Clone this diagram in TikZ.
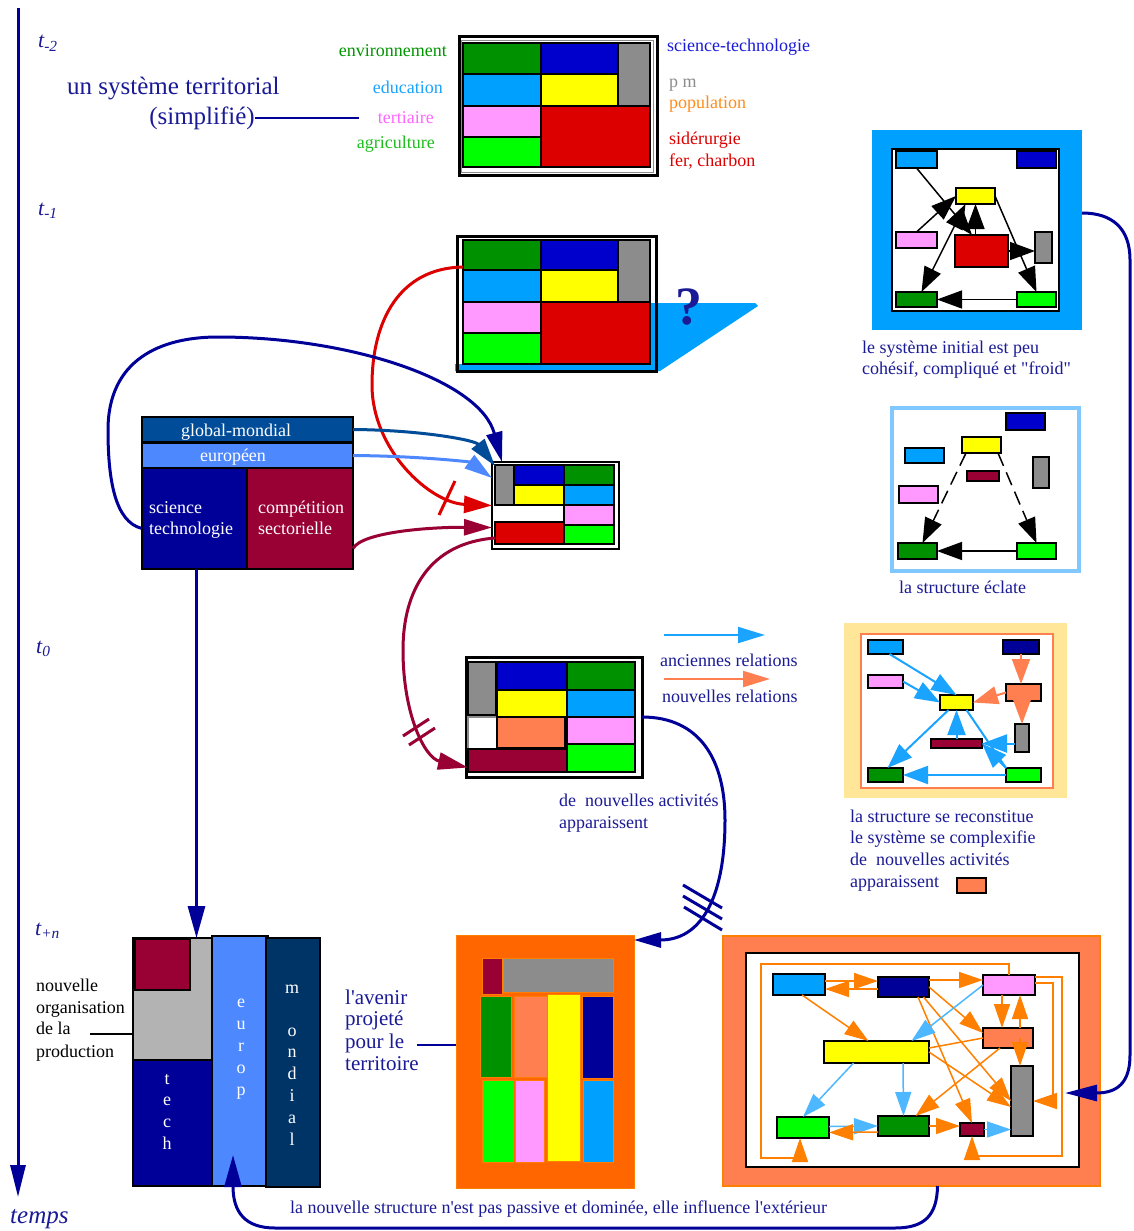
\documentclass[tikz,border=0pt]{standalone}
\usepackage{fontspec}
\setmainfont{Liberation Serif}
\usetikzlibrary{arrows.meta,calc}
\definecolor{navyT}{RGB}{26,26,150}
\definecolor{navyL}{RGB}{0,0,153}
\definecolor{dkgreen}{RGB}{0,145,0}
\definecolor{blueC}{RGB}{0,0,204}
\definecolor{grayC}{RGB}{140,140,140}
\definecolor{lblue}{RGB}{0,160,255}
\definecolor{yellowC}{RGB}{255,255,0}
\definecolor{pinkC}{RGB}{255,153,255}
\definecolor{redC}{RGB}{221,0,0}
\definecolor{bgreen}{RGB}{0,255,0}
\definecolor{maroonC}{RGB}{153,0,51}
\definecolor{coralC}{RGB}{255,127,80}
\definecolor{orangeC}{RGB}{255,102,0}
\definecolor{orangeA}{RGB}{255,128,0}
\definecolor{skyA}{RGB}{77,184,255}
\definecolor{euroC}{RGB}{77,136,255}
\definecolor{globC}{RGB}{0,76,153}
\definecolor{mondC}{RGB}{0,51,102}
\definecolor{navyF}{RGB}{0,0,153}
\definecolor{paleY}{RGB}{255,230,153}
\definecolor{frameB}{RGB}{128,200,255}
\definecolor{lgrayC}{RGB}{179,179,179}
\definecolor{txtGreen}{RGB}{0,150,0}
\definecolor{txtGreen2}{RGB}{30,190,30}
\definecolor{txtSky}{RGB}{26,163,255}
\definecolor{txtPink}{RGB}{255,102,255}
\definecolor{txtOrange}{RGB}{255,140,26}
\definecolor{txtBlue}{RGB}{26,26,217}
\definecolor{txtGray}{RGB}{140,140,140}
\newcommand\mkcell[7][]{\node[cellbase,fill=#3,minimum width={(#6-#4)*1pt},minimum height={(#7-#5)*1pt},#1] (#2) at ({(#4+#6)/2},{(#5+#7)/2}) {};}
\newcommand\aps{\textquotesingle}
\begin{document}
\begin{tikzpicture}[x=1pt,y=-1pt,
  cellbase/.style={draw=black,line width=1.5pt,inner sep=0pt,outer sep=0pt,rectangle},
  lab/.style={inner sep=0pt,font=\fontsize{18}{22}\selectfont,anchor=base west,text=navyT},
  wlab/.style={lab,text=white},
  tl/.style={inner sep=0pt,anchor=base west,text=navyT,font=\fontsize{22}{26}\selectfont\itshape},
  bignavy/.style={draw=navyL,line width=3pt,-{Triangle[length=30pt,width=16pt]}},
  blk/.style={draw=black,line width=1.5pt,-{Triangle[length=25pt,width=18pt]}},
  blkb/.style={draw=black,line width=1.5pt,{Triangle[length=25pt,width=18pt]}-{Triangle[length=25pt,width=18pt]}},
  blkd/.style={blk,dash pattern=on 14pt off 7pt},
  rsk/.style={draw=txtSky,line width=2pt,-{Triangle[length=25pt,width=18pt]}},
  rcor/.style={draw=coralC,line width=2pt,-{Triangle[length=25pt,width=18pt]}},
  oar/.style={draw=orangeA,line width=1.5pt,-{Triangle[length=24pt,width=16pt]}},
  sar/.style={draw=skyA,line width=1.5pt,-{Triangle[length=24pt,width=16pt]}}
]
\fill[white] (0,0) rectangle (1133,1231);
\useasboundingbox (0,0) rectangle (1133,1231);

% ---------- time axis ----------
\coordinate (axTop) at (18,8);
\coordinate (axBot) at (18,1197);
\draw[draw=navyL,line width=3pt,-{Triangle[length=32pt,width=15pt]}] (axTop) -- (axBot);
\node[tl] (tm2) at (38,48) {t\textsubscript{-2}};
\node[tl] (tm1) at (38,215) {t\textsubscript{-1}};
\node[tl] (t0) at (36,653) {t\textsubscript{0}};
\node[tl] (tpn) at (35,935) {t\textsubscript{+n}};
\node[tl,font=\fontsize{25}{30}\selectfont\itshape] (temps) at (10,1223) {temps};

% ---------- t-2 system ----------
\mkcell[line width=3pt]{sysA}{white}{459}{37}{657}{175}
\draw[grayC,line width=0.8pt] (461.5,40) rectangle (653,172);
\mkcell{a1}{dkgreen}{463}{43}{541}{74}
\mkcell{a2}{blueC}{541}{43}{618}{74}
\mkcell{a3}{grayC}{618}{43}{650}{106}
\mkcell{a4}{lblue}{463}{74}{541}{106}
\mkcell{a5}{yellowC}{541}{74}{618}{106}
\mkcell{a6}{pinkC}{463}{106}{541}{137}
\mkcell{a7}{redC}{541}{106}{650}{167}
\mkcell{a8}{bgreen}{463}{137}{541}{167}
\node[lab,anchor=base east,text=txtGreen] (lEnv) at (447,57) {environnement};
\node[lab,anchor=base east,text=txtSky] (lEdu) at (443,93) {education};
\node[lab,anchor=base east,text=txtPink] (lTer) at (434,123) {tertiaire};
\node[lab,anchor=base east,text=txtGreen2] (lAgr) at (435,148) {agriculture};
\node[lab,text=txtBlue] (lSci) at (667,52) {science-technologie};
\node[lab,text=txtGray] (lPm) at (669,88) {p m};
\node[lab,text=txtOrange] (lPop) at (669,108) {population};
\node[lab,text=redC] (lSid) at (669,144) {sidérurgie};
\node[lab,text=redC] (lFer) at (669,166) {fer, charbon};
\node[lab,font=\fontsize{25}{30}\selectfont] (lUn) at (67,94) {un système territorial};
\node[lab,font=\fontsize{25}{30}\selectfont,anchor=base east] (lSimp) at (255,124) {(simplifié)};
\coordinate (simpEnd) at (359,117);
\draw[navyL,line width=1.5pt] (lSimp.east) -- (lSimp.east -| simpEnd);

% ---------- t-1 system ----------
\fill[lblue] (640,303) -- (755,303) -- (758,306) -- (660,371) -- (455,371) -- (455,364) -- (640,364) -- cycle;
\mkcell[line width=3pt,fill=none]{sysB}{white}{457}{236}{656}{371}
\mkcell{b1}{dkgreen}{463}{240}{541}{270}
\mkcell{b2}{blueC}{541}{240}{618}{270}
\mkcell{b3}{grayC}{618}{240}{650}{302}
\mkcell{b4}{lblue}{463}{270}{541}{302}
\mkcell{b5}{yellowC}{541}{270}{618}{302}
\mkcell{b6}{pinkC}{463}{302}{541}{333}
\mkcell{b7}{redC}{541}{302}{650}{364}
\mkcell{b8}{bgreen}{463}{333}{541}{364}
\node[inner sep=0pt,font=\fontsize{54}{60}\selectfont\bfseries,text=navyT,anchor=base] (qm) at (689,324) {?};

% ---------- forces block ----------
\mkcell{glob}{globC}{142}{417}{353}{442}
\mkcell{eur}{euroC}{142}{443}{353}{468}
\mkcell{sci}{navyF}{142}{468}{247}{569}
\mkcell{comp}{maroonC}{247}{468}{353}{569}
\node[wlab,anchor=base] (globT) at (236,436) {global-mondial};
\node[wlab,anchor=base] (eurT) at (233,461) {européen};
\node[wlab] (sciT1) at (149,513) {science};
\node[wlab] (sciT2) at (149,534) {technologie};
\node[wlab] (compT1) at (258,513) {compétition};
\node[wlab] (compT2) at (258,534) {sectorielle};

% ---------- small system ----------
\mkcell{sysC}{white}{492}{462}{619}{549}
\mkcell{c1}{grayC}{495}{465}{514}{505}
\mkcell{c2}{blueC}{514}{465}{564}{485}
\mkcell{c3}{dkgreen}{564}{465}{614}{485}
\mkcell{c4}{yellowC}{514}{485}{564}{505}
\mkcell{c5}{lblue}{564}{485}{614}{505}
\mkcell{c6}{pinkC}{564}{505}{614}{525}
\mkcell{c7}{redC}{495}{522}{564}{544}
\mkcell{c8}{bgreen}{564}{525}{614}{544}

% curves into small system
\draw[redC,line width=3pt,-{Triangle[length=28pt,width=17pt]}] ([yshift=3pt]b1.south west) .. controls (400,268) and (372,320) .. (372,385) .. controls (372,450) and (430,503) .. (sysC.west);
\draw[redC,line width=3pt] (455,481) -- (439,515);
\draw[bignavy] ([yshift=-10pt]sci.west) .. controls (115,522) and (108,480) .. (108,430) .. controls (108,360) and (160,337) .. (218,337) .. controls (350,337) and (480,380) .. ([xshift=10pt]sysC.north west);
\draw[globC,line width=3pt,-{Triangle[length=28pt,width=16pt]}] (glob.east) .. controls (420,430) and (475,440) .. ([xshift=3pt,yshift=-4pt]sysC.north west);
\draw[euroC,line width=3pt,-{Triangle[length=28pt,width=16pt]}] (eur.east) .. controls (420,456) and (470,462) .. ([yshift=-16pt]sysC.north west);
\draw[maroonC,line width=3pt,-{Triangle[length=28pt,width=16pt]}] ([yshift=-30pt]comp.east) .. controls (362,532) and (430,527) .. ([yshift=-22pt]sysC.west);

% ---------- t0 system ----------
\mkcell[line width=3pt]{sysD}{white}{466}{657}{642}{777}
\mkcell{d1}{grayC}{468}{662}{496}{715}
\mkcell{d2}{blueC}{497}{662}{567}{690}
\mkcell{d3}{dkgreen}{567}{662}{635}{690}
\mkcell{d4}{yellowC}{497}{690}{567}{717}
\mkcell{d5}{lblue}{567}{690}{635}{717}
\mkcell[draw=grayC]{d6}{white}{468}{717}{497}{749}
\mkcell{d7}{coralC}{497}{717}{565}{748}
\mkcell{d8}{pinkC}{567}{717}{635}{744}
\mkcell{d9}{maroonC}{468}{749}{567}{772}
\mkcell{d10}{bgreen}{567}{744}{635}{772}
\draw[maroonC,line width=3pt,-{Triangle[length=30pt,width=17pt]}] ([yshift=-5pt]c7.west) .. controls (430,543) and (403,590) .. (403,650) .. controls (403,715) and (425,758) .. ([yshift=-7pt]d9.west);
\draw[maroonC,line width=3pt] (403,736) -- (429,719);
\draw[maroonC,line width=3pt] (409,745) -- (435,728);
\node[lab] (nvA1) at (559,806) {de\ \ nouvelles activités};
\node[lab] (nvA2) at (559,828) {apparaissent};

% legend
\coordinate (lg1a) at (664,635); \coordinate (lg1b) at (765,635);
\coordinate (lg2a) at (664,679); \coordinate (lg2b) at (770,679);
\draw[txtSky,line width=2pt,-{Triangle[length=27pt,width=16pt]}] (lg1a) -- (lg1b);
\draw[coralC,line width=2pt,-{Triangle[length=27pt,width=16pt]}] (lg2a) -- (lg2b);
\node[lab] (lgT1) at (660,666) {anciennes relations};
\node[lab] (lgT2) at (662,702) {nouvelles relations};

% ---------- initial system (right) ----------
\mkcell[draw=none]{ini}{lblue}{872}{130}{1082}{330}
\mkcell[line width=2pt]{iniF}{white}{892}{149}{1059}{311}
\mkcell{ilb}{lblue}{896}{151}{937}{168}
\mkcell{ibl}{blueC}{1017}{151}{1056}{168}
\mkcell{iye}{yellowC}{956}{188}{995}{204}
\mkcell{ipk}{pinkC}{896}{232}{937}{248}
\mkcell{ird}{redC}{955}{235}{1008}{267}
\mkcell{igy}{grayC}{1035}{232}{1052}{263}
\mkcell{idg}{dkgreen}{896}{292}{937}{307}
\mkcell{ibg}{bgreen}{1017}{292}{1056}{307}
\draw[blk] (ilb.south) -- ([xshift=17pt]ird.north west);
\draw[blk] (ipk.north) -- (iye.west);
\draw[blkb] ([xshift=-10pt]iye.south) -- ([xshift=5pt]idg.north);
\coordinate (irdN) at ([xshift=-6pt]ird.north);
\draw[blk] (irdN) -- (irdN |- iye.south);
\draw[blk] (ird.east) -- (ird.east -| igy.west);
\draw[blk] (iye.east) -- (ibg.north);
\draw[blk] (ibg.west) -- (idg.east);
\node[lab] (iniT1) at (862,353) {le système initial est peu};
\node[lab] (iniT2) at (862,374) {cohésif, compliqué et \textquotedbl froid\textquotedbl};

% ---------- structure eclate ----------
\mkcell[draw=frameB,line width=4pt]{ecl}{white}{892}{408}{1079}{571}
\mkcell{ebl}{blueC}{1006}{413}{1045}{430}
\mkcell{eye}{yellowC}{962}{437}{1001}{453}
\mkcell{elb}{lblue}{905}{448}{944}{463}
\mkcell{emr}{maroonC}{967}{471}{999}{481}
\mkcell{egy}{grayC}{1033}{457}{1049}{488}
\mkcell{epk}{pinkC}{899}{486}{938}{503}
\mkcell{edg}{dkgreen}{898}{543}{937}{559}
\mkcell{ebg}{bgreen}{1017}{543}{1056}{559}
\draw[blkd] ([xshift=4pt]eye.south west) -- ([xshift=5pt]edg.north);
\draw[blkd] ([xshift=-3pt]eye.south east) -- (ebg.north);
\draw[blk] (ebg.west) -- (edg.east);
\node[lab] (eclT) at (899,593) {la structure éclate};

% ---------- reconstitution ----------
\mkcell[draw=none]{recBg}{paleY}{844}{623}{1067}{798}
\mkcell[draw=coralC,line width=2pt]{recF}{white}{861}{634}{1053}{788}
\mkcell{rlb}{lblue}{868}{640}{903}{654}
\mkcell{rnv}{navyF}{1003}{640}{1039}{654}
\mkcell{rpk}{pinkC}{868}{675}{903}{688}
\mkcell{rye}{yellowC}{940}{695}{973}{710}
\mkcell{rco}{coralC}{1006}{684}{1041}{701}
\mkcell{rgy}{grayC}{1015}{724}{1029}{752}
\mkcell{rmr}{maroonC}{931}{739}{982}{748}
\mkcell{rdg}{dkgreen}{868}{768}{903}{782}
\mkcell{rbg}{bgreen}{1006}{768}{1041}{782}
\draw[rsk] ([xshift=4pt]rlb.south) -- (rye.north);
\draw[rsk] (rpk.east) -- (rye.west);
\draw[rsk] ([xshift=-8pt]rye.south) -- ([xshift=2pt]rdg.north);
\draw[rsk] (rmr.north) -- (rmr.north |- rye.south);
\draw[txtSky,line width=2pt] ([xshift=10pt]rye.south) -- (rbg.north west);
\draw[rsk] (rmr.east -| rgy.west) -- (rmr.east);
\draw[rsk] (rbg.north west) -- (rmr.east);
\draw[rsk] (rbg.west) -- (rdg.east);
\draw[rcor] (rnv.south) -- (rnv.south |- rco.north);
\draw[rcor] (rco.west) -- (rye.east);
\draw[rcor] (rgy.north |- rco.south) -- (rgy.north);
\node[lab] (recT1) at (850,822) {la structure se reconstitue};
\node[lab] (recT2) at (850,843) {le système se complexifie};
\node[lab] (recT3) at (850,865) {de\ \ nouvelles activités};
\node[lab] (recT4) at (850,887) {apparaissent};
\mkcell{recKey}{coralC}{957}{878}{986}{893}

% ---------- t+n : production block ----------
\mkcell{G}{lgrayC}{133}{938}{212}{1060}
\mkcell{Gm}{maroonC}{135}{939}{190}{990}
\mkcell{tech}{navyF}{133}{1060}{212}{1186}
\mkcell{europ}{euroC}{212}{936}{268}{1186}
\mkcell{mond}{mondC}{266}{938}{320}{1187}
\foreach \ch/\yy [count=\k] in {t/1084,e/1105,c/1127,h/1149}
  \node[wlab,anchor=base] (te\k) at (167,\yy) {\ch};
\foreach \ch/\yy [count=\k] in {e/1007,u/1029,r/1051,o/1073,p/1095}
  \node[wlab,anchor=base] (eu\k) at (241,\yy) {\ch};
\foreach \ch/\yy [count=\k] in {m/993,o/1036,n/1057,d/1079,i/1101,a/1123,l/1145}
  \node[wlab,anchor=base] (mo\k) at (292,\yy) {\ch};
\coordinate (sciS) at ([xshift=2pt]sci.south);
\draw[draw=navyL,line width=3pt,-{Triangle[length=32pt,width=17pt]}] (sciS) -- (sciS |- G.north);
\node[lab,text=black] (noT1) at (36,991) {nouvelle};
\node[lab,text=black] (noT2) at (36,1013) {organisation};
\node[lab,text=black] (noT3) at (36,1034) {de la};
\node[lab,text=black] (noT4) at (36,1057) {production};
\coordinate (orgL) at (90,1034);
\draw[black,line width=1.5pt] (orgL) -- (orgL -| G.west);

% ---------- projected future ----------
\mkcell[draw=orangeA,line width=1pt]{fut}{orangeC}{456}{935}{634}{1188}
\mkcell[draw=orangeA,line width=1pt]{u1}{maroonC}{482}{958}{502}{994}
\mkcell[draw=orangeA,line width=1pt]{u2}{grayC}{503}{958}{613}{992}
\mkcell[draw=orangeA,line width=1pt]{u3}{dkgreen}{480}{996}{511}{1077}
\mkcell[draw=orangeA,line width=1pt]{u4}{coralC}{514}{996}{547}{1077}
\mkcell[draw=orangeA,line width=1pt]{u5}{yellowC}{547}{994}{580}{1161}
\mkcell[draw=orangeA,line width=1pt]{u6}{navyF}{582}{996}{613}{1078}
\mkcell[draw=orangeA,line width=1pt]{u7}{bgreen}{482}{1080}{513}{1162}
\mkcell[draw=orangeA,line width=1pt]{u8}{pinkC}{515}{1080}{544}{1162}
\mkcell[draw=orangeA,line width=1pt]{u9}{lblue}{583}{1080}{613}{1162}
\node[lab,font=\fontsize{21}{25}\selectfont] (avT1) at (345,1004) {l\aps avenir};
\node[lab,font=\fontsize{21}{25}\selectfont] (avT2) at (345,1025) {projeté};
\node[lab,font=\fontsize{21}{25}\selectfont] (avT3) at (345,1048) {pour le};
\node[lab,font=\fontsize{21}{25}\selectfont] (avT4) at (345,1070) {territoire};
\coordinate (avL) at (417,1045);
\draw[navyL,line width=1.5pt] (avL) -- (avL -| fut.west);
\draw[draw=navyL,line width=3pt,-{Triangle[length=27pt,width=15pt]}] (sysD.east) .. controls (700,717) and (725,760) .. (725,820) .. controls (725,900) and (700,940) .. ([yshift=-5pt]fut.north east);
\draw[navyL,line width=3pt] (683,885) -- (722,908);
\draw[navyL,line width=3pt] (683,896) -- (722,919);
\draw[navyL,line width=3pt] (684,907) -- (722,930);

% ---------- final complex system ----------
\mkcell[draw=orangeA,line width=1.5pt]{fin}{coralC}{723}{936}{1100}{1186}
\mkcell[line width=2pt]{finF}{white}{746}{953}{1079}{1167}
\mkcell[line width=2pt]{flb}{lblue}{773}{974}{825}{995}
\mkcell[line width=2pt]{fnv}{navyF}{878}{977}{929}{997}
\mkcell[line width=2pt]{fpk}{pinkC}{983}{975}{1035}{995}
\mkcell[line width=2pt]{fco}{coralC}{983}{1028}{1033}{1048}
\mkcell[line width=2pt]{fye}{yellowC}{824}{1041}{929}{1063}
\mkcell[line width=2pt]{fgy}{grayC}{1011}{1066}{1033}{1136}
\mkcell[line width=2pt]{fbg}{bgreen}{777}{1117}{829}{1138}
\mkcell[line width=2pt]{fdg}{dkgreen}{878}{1116}{929}{1136}
\mkcell[line width=2pt]{fmr}{maroonC}{960}{1123}{984}{1136}
\draw[oar] ([yshift=3.5pt]flb.east) -- ([yshift=6pt]fnv.west);
\draw[oar] ([yshift=-2pt]fnv.west) -- ([yshift=-4.5pt]flb.east);
\draw[oar] ([yshift=7pt]fnv.east) -- ([yshift=5pt]fpk.west);
\draw[oar] ([xshift=3pt]flb.south) -- ([xshift=-8pt]fye.north);
\draw[oar] (fnv.east) -- ([yshift=5pt]fco.west);
\draw[oar] ([xshift=14.5pt]fnv.south) -- (fmr.north);
\draw[oar] ([xshift=20pt]fnv.south) -- (fgy.west);
\coordinate (p8) at ([xshift=-7pt]fpk.south);
\draw[oar] (p8) -- (p8 |- fco.north);
\coordinate (p9) at ([xshift=11pt]fpk.south);
\draw[oar] (p9 |- fco.north) -- (p9);
\coordinate (p10) at ([xshift=-2pt]fgy.north);
\draw[oar] (p10 |- fco.center) -- (p10);
\draw[orangeA,line width=1.5pt] (fco.west) -- ([yshift=4pt]fye.east);
\draw[oar] ([xshift=-8pt]fco.south) -- ([xshift=12pt]fdg.north);
\draw[oar] (fye.east) -- ([yshift=-6pt]fgy.west);
\draw[oar] ([yshift=2pt]fpk.east) -- ++(18,0) |- (fgy.east);
\draw[oar] ([yshift=8pt]fpk.east) -- ++(27,0) |- ($(fmr.south)+(0,20)$) -- (fmr.south);
\coordinate (loopTL) at (761,964);
\coordinate (fbgS) at ([xshift=-3pt]fbg.south);
\draw[oar] (fpk.north) |- (loopTL) |- ($(fbgS)+(0,20)$) -- (fbgS);
\draw[sar] ([yshift=1pt]fbg.east) -- (fdg.west);
\draw[oar] ([yshift=-6pt]fdg.west) -- ([yshift=-5pt]fbg.east);
\draw[oar] (fdg.east) -- (fdg.east -| fmr.west);
\draw[sar] (fmr.east) -- (fmr.east -| fgy.west);
\draw[sar] (fpk.west) -- ([xshift=35pt]fye.north);
\draw[sar] ([xshift=-23pt]fye.south) -- (fbg.north);
\draw[sar] ([xshift=26.5pt]fye.south) -- (fdg.north);

% ---------- feedback curves ----------
\coordinate (finIn) at (1065,1093);
\draw[draw=navyL,line width=3pt,-{Triangle[length=32pt,width=16pt]}] ([yshift=17pt]ini.east) .. controls (1112,213) and (1130,228) .. (1130,260) -- (1130,1055) .. controls (1130,1082) and (1118,1093) .. (finIn);
\coordinate (euIn) at (233,1155);
\draw[draw=navyL,line width=3pt,-{Triangle[length=32pt,width=17pt]}] ([xshift=26pt]fin.south) .. controls (937,1215) and (925,1228) .. (895,1228) -- (275,1228) .. controls (245,1228) and (233,1212) .. (euIn);
\node[lab] (botT) at (290,1213) {la nouvelle structure n\aps est pas passive et dominée, elle influence l\aps extérieur};
\end{tikzpicture}
\end{document}
